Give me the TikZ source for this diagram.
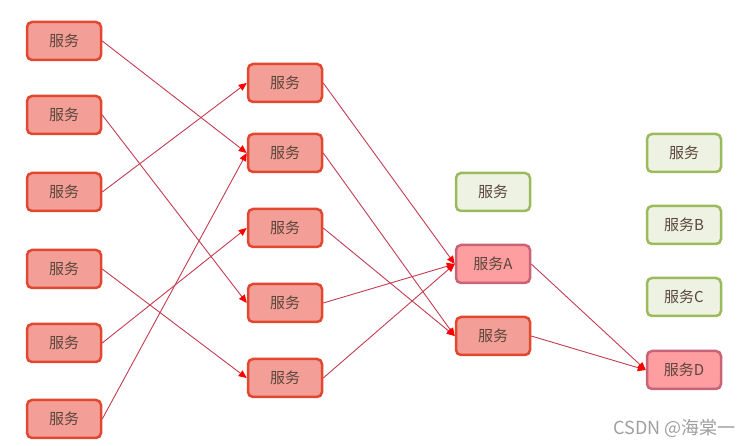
\documentclass[tikz,border=0pt]{standalone}
\usepackage{fontspec}
\setmainfont{Noto Sans CJK SC}
\definecolor{svcred}{RGB}{226, 72, 48}
\definecolor{svcfill}{RGB}{243, 158, 150}
\definecolor{hotred}{RGB}{200, 100, 120}
\definecolor{hotfill}{RGB}{255, 158, 160}
\definecolor{idlegreen}{RGB}{155, 186, 92}
\definecolor{idlefill}{RGB}{238, 242, 226}
\definecolor{linkred}{RGB}{195, 60, 80}
\definecolor{txtgray}{RGB}{90, 70, 60}
\usetikzlibrary{arrows.meta, positioning}

\begin{document}
\begin{tikzpicture}[
        x=1pt, y=-1pt,
        every node/.style={font=\fontsize{15}{17}\selectfont, text=txtgray, align=center},
        svc/.style={draw=svcred, line width=2.5pt, rounded corners=5pt, fill=svcfill, minimum width=74pt, minimum height=38pt, inner sep=0pt},
        hot/.style={svc, draw=hotred, fill=hotfill},
        idle/.style={svc, draw=idlegreen, fill=idlefill},
        link/.style={draw=linkred, line width=0.9pt, -{Triangle[length=8pt, width=7pt, color=red]}}
      ]
      \useasboundingbox (0,0) rectangle (756,446);
      % first row of callers
      \node[svc] (l1) at (64,41) {服务};
      \node[svc] (l2) at (64,115) {服务};
      \node[svc] (l3) at (64,192) {服务};
      \node[svc] (l4) at (64,269) {服务};
      \node[svc] (l5) at (64,343) {服务};
      \node[svc] (l6) at (64,419) {服务};
      % middle row
      \node[svc] (m1) at (285,83) {服务};
      \node[svc] (m2) at (285,153) {服务};
      \node[svc] (m3) at (285,228) {服务};
      \node[svc] (m4) at (285,303) {服务};
      \node[svc] (m5) at (285,378) {服务};
      % third row
      \node[idle] (c1) at (493,192) {服务};
      \node[hot] (sa) at (493,264) {服务A};
      \node[svc] (c3) at (493,336) {服务};
      % last row
      \node[idle] (r1) at (684,153) {服务};
      \node[idle] (sb) at (684,225) {服务B};
      \node[idle] (sc) at (684,297) {服务C};
      \node[hot] (sd) at (684,370) {服务D};

      \draw[link] (l1.east) -- (m2.west);
      \draw[link] (l2.east) -- (m4.west);
      \draw[link] (l3.east) -- (m1.west);
      \draw[link] (l4.east) -- (m5.west);
      \draw[link] (l5.east) -- (m3.west);
      \draw[link] (l6.east) -- (m2.west);
      \draw[link] (m1.east) -- (sa.west);
      \draw[link] (m2.east) -- (c3.west);
      \draw[link] (m3.east) -- (c3.west);
      \draw[link] (m4.east) -- (sa.west);
      \draw[link] (m5.east) -- (sa.west);
      \draw[link] (sa.east) -- (sd.west);
      \draw[link] (c3.east) -- (sd.west);

      \node[anchor=west, text=gray!75, font=\fontsize{18}{20}\selectfont] (mark) at (610,428) {CSDN @海棠一};
      \end{tikzpicture}
\end{document}
